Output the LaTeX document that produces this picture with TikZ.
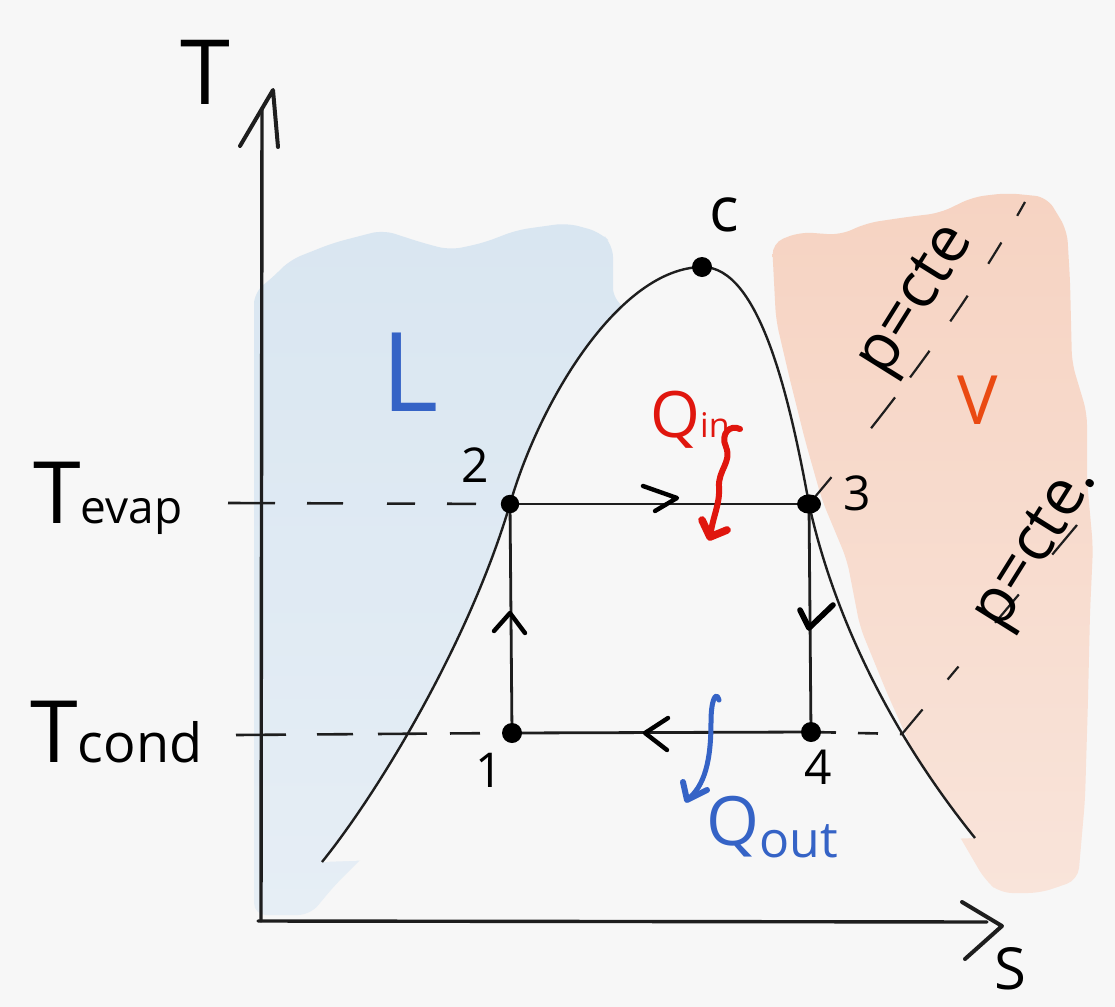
\documentclass[tikz,border=0pt]{standalone}
\usepackage{fontspec}
\setmainfont{Open Sans}
\definecolor{bg}{HTML}{F7F7F7}
\definecolor{ink}{HTML}{1E1E1E}
\definecolor{wblue}{HTML}{D9E6F1}
\definecolor{wblue2}{HTML}{E6EEF5}
\definecolor{worange}{HTML}{F6D3C2}
\definecolor{worange2}{HTML}{F9E4DA}
\definecolor{qred}{HTML}{E0160E}
\definecolor{qblue}{HTML}{3563C6}
\definecolor{vorange}{HTML}{EA4A12}
\newcommand{\fs}[1]{\fontsize{#1}{#1}\selectfont}
\begin{document}
\begin{tikzpicture}[x=0.5pt,y=-0.5pt,
  axisline/.style={draw=ink, line width=1.7pt, line cap=round},
  axishead/.style={draw=ink, line width=2pt, line cap=round, line join=round},
  dome/.style={draw=ink, line width=1.2pt},
  cyc/.style={draw=ink, line width=1.4pt},
  dashl/.style={draw=ink, line width=1.3pt},
  chev/.style={draw=black, line width=2.2pt, line cap=round, line join=round},
  dot/.style={fill=black},
  lab/.style={inner sep=0pt, text=black},
  qin/.style={draw=qred, line width=3pt, line cap=round, line join=round},
  qout/.style={draw=qblue, line width=2.5pt, line cap=round, line join=round}]
\useasboundingbox (0,0) rectangle (1115,1007);
\fill[bg] (0,0) rectangle (1115,1007);

% watercolour regions
\shade[top color=wblue, bottom color=wblue2, rounded corners=6pt]
  (254,292) -- (270,280) -- (290,260) -- (333,243) -- (383,230) -- (423,243)
  -- (450,250) -- (483,243) -- (517,230) -- (567,223) -- (600,232) -- (613,245)
  -- (613,300) -- (660,330) -- (620,480) -- (560,640) -- (470,760) -- (380,840)
  -- (335,885) -- (310,915) -- (254,915) -- cycle;
\shade[top color=worange, middle color=worange, bottom color=worange2, rounded corners=6pt]
  (772,243) -- (800,232) -- (840,235) -- (867,223) -- (907,217) -- (940,213)
  -- (973,197) -- (1007,193) -- (1047,197) -- (1067,230) -- (1070,280)
  -- (1072,363) -- (1087,413) -- (1087,480) -- (1093,547) -- (1090,613)
  -- (1088,700) -- (1085,800) -- (1078,880) -- (1040,893) -- (1000,893)
  -- (985,880) -- (950,820) -- (917,760) -- (887,693) -- (860,627)
  -- (847,560) -- (822,500) -- (805,440) -- (790,380) -- (776,320) -- cycle;

% dome interior (paper colour) and dome curve
\fill[bg] (322,862) .. controls (380,790) and (470,640) .. (510,504)
  .. controls (540,400) and (620,268) .. (702,267)
  .. controls (760,266) and (790,400) .. (809,504)
  .. controls (830,600) and (880,720) .. (975,838) -- cycle;
\draw[dome] (322,862) .. controls (380,790) and (470,640) .. (510,504)
  .. controls (540,400) and (620,268) .. (702,267)
  .. controls (760,266) and (790,400) .. (809,504)
  .. controls (830,600) and (880,720) .. (975,838);

% key points
\coordinate (p1) at (512,733);
\coordinate (p2) at (510,504);
\coordinate (p3) at (809,504);
\coordinate (p4) at (811,732);
\coordinate (pc) at (702,267);
\coordinate (evapL) at (228,503);
\coordinate (condL) at (236,735);
\coordinate (condR) at (902,734);
\coordinate (iso1E) at (1025,202);
\coordinate (iso2E) at (1077,525);
\coordinate (orig) at (261,921);
\coordinate (ytop) at (262,108);
\coordinate (xend) at (987,922);

% axes
\draw[axisline] (orig) -- (ytop);
\draw[axisline] (258,921) -- (xend);
\draw[axishead] (240,146) -- (273,90) -- (278,147);
\draw[axishead] (962,902) -- (1002,926) -- (965,959);

% dashed temperature levels
\draw[dashl, dash pattern=on 23.5pt off 16pt on 18pt off 22pt on 14pt off 16pt on 14.5pt off 20pt] (evapL) -- (p2);
\draw[dashl, dash pattern=on 25pt off 15.5pt on 18pt off 12.5pt on 24.5pt off 11.5pt on 15pt off 20pt] (condL) -- (p1);
\draw[dashl, dash pattern=on 12.5pt off 11pt on 10pt off 11pt] (p4) -- (condR);

% isobars
\draw[dashl, line width=1.1pt, dash pattern=on 17.5pt off 31.5pt on 19.5pt off 12.5pt on 16.5pt off 18pt on 15.5pt off 19pt on 12.5pt off 15.5pt on 8pt off 40pt]
  (p3) .. controls (880,420) and (960,318) .. (iso1E);
\draw[dashl, line width=1.1pt, dash pattern=on 16pt off 19.5pt on 8.5pt off 28.5pt on 18.5pt off 26pt on 20pt off 40pt]
  (condR) -- (iso2E);

% cycle
\draw[cyc] (p2) -- (p3);
\draw[cyc] (p3) -- (p4);
\draw[cyc] (p4) -- (p1);
\draw[cyc] (p1) -- (p2);

% direction marks
\draw[chev] (643,486) -- (677,498) -- (655,511);
\draw[chev] (494,631) -- (510,613) -- (525,633);
\draw[chev, line width=2.8pt] (800,610) -- (809,628) -- (833,605);
\draw[chev] (668,718) -- (645,733) -- (667,750);

% dots
\fill[dot] (p1) circle[radius=5pt];
\fill[dot] (p2) circle[radius=4.6pt];
\fill[dot] (p3) ellipse[x radius=6pt, y radius=4.8pt];
\fill[dot] (p4) circle[radius=5pt];
\fill[dot] (pc) circle[radius=5pt];

% heat arrows
\coordinate (qinS) at (740,429);
\coordinate (qinT) at (710,537);
\draw[qin] (qinS) .. controls (730,424) and (720,434) .. (726,447)
  .. controls (732,462) and (718,470) .. (719,487)
  .. controls (720,505) and (713,515) .. (qinT);
\draw[qin, line width=3.8pt] (702,520) -- (qinT) -- (727,530);
\coordinate (qoutS) at (719,700);
\coordinate (qoutT) at (687,800);
\draw[qout] (qoutS) .. controls (716,690) and (711,700) .. (711,722)
  .. controls (711,760) and (705,786) .. (qoutT);
\draw[qout, line width=3pt] (683,782) -- (qoutT) -- (707,790);

% labels
\node[lab, font=\fs{45}] (tT) at (205,72) {T};
\node[lab, font=\fs{29}] (tS) at (1010,969) {S};
\node[lab, anchor=base west] (tevap) at (33,523) {{\fs{43}T}{\fs{23}evap}};
\node[lab, anchor=base west] (tcond) at (30,762) {{\fs{43}T}{\fs{27}cond}};
\node[lab, font=\fs{55}, text=qblue] (tL) at (410,372) {L};
\node[lab, font=\fs{34}, text=vorange] (tV) at (978,400) {V};
\node[lab, font=\fs{31}] (tc) at (724,215) {c};
\node[lab, font=\fs{24}] (t1) at (489,770) {1};
\node[lab, font=\fs{24}] (t2) at (475,465) {2};
\node[lab, font=\fs{24}] (t3) at (857,493) {3};
\node[lab, font=\fs{24}] (t4) at (818,767) {4};
\node[lab, anchor=base west, text=qred] (tqin) at (650,437) {{\fs{32}Q}{\fs{17}in}};
\node[lab, anchor=base west, text=qblue] (tqout) at (706,845) {{\fs{34}Q}\raisebox{-6pt}{\fs{25}out}};
\node[lab, font=\fs{32}, rotate=58] (pcte1) at (918,302) {p=cte};
\node[lab, font=\fs{32}, rotate=58] (pcte2) at (1038,548) {p=cte.};
\end{tikzpicture}
\end{document}
